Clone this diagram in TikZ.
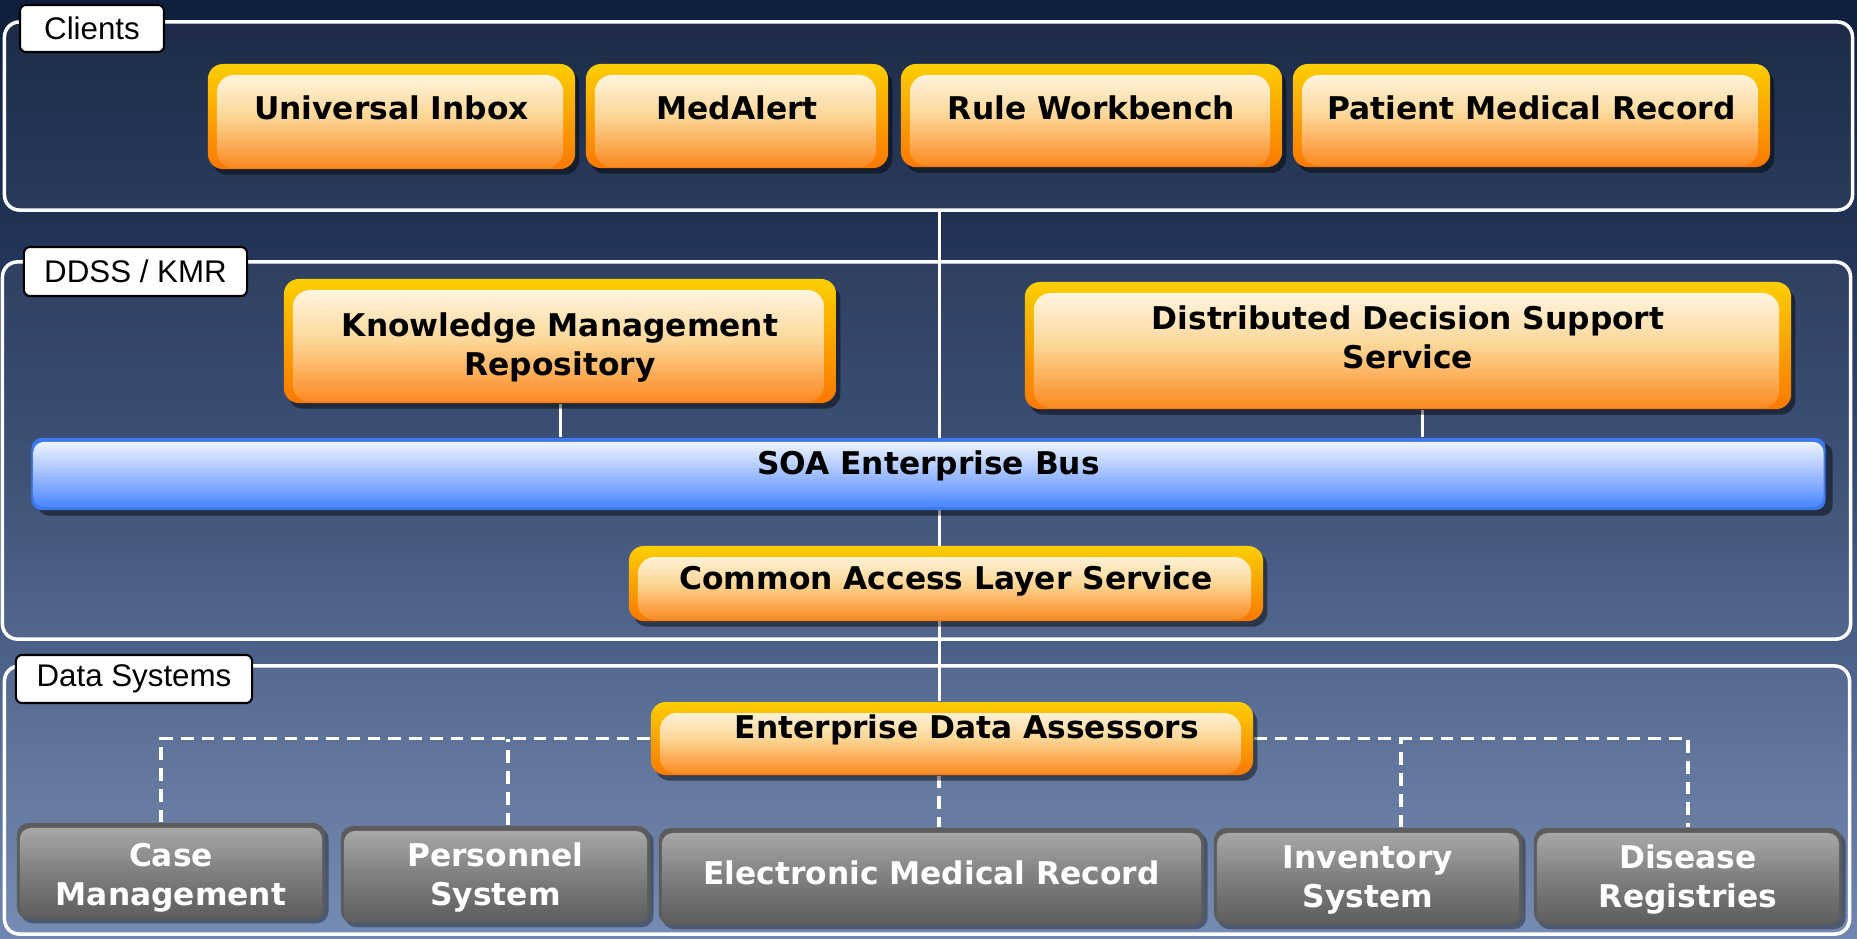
\documentclass[tikz,border=0pt]{standalone}
\usepackage{fontspec}
\newfontfamily\boxfont{DejaVu Sans}
\newfontfamily\tagfont{Liberation Sans}
\usetikzlibrary{shadows}
\definecolor{bgtop}{RGB}{15,30,60}
\definecolor{bgmid}{RGB}{52,72,112}
\definecolor{bgbot}{RGB}{112,134,176}
\definecolor{otop}{RGB}{252,206,0}
\definecolor{obot}{RGB}{251,120,0}
\definecolor{ctop}{RGB}{255,252,240}
\definecolor{cmid}{RGB}{252,214,150}
\definecolor{cbot}{RGB}{251,136,30}
\definecolor{gedge}{RGB}{92,92,92}
\definecolor{gtop}{RGB}{172,172,172}
\definecolor{gmid}{RGB}{128,128,128}
\definecolor{gbot}{RGB}{92,92,92}
\definecolor{bedge}{RGB}{60,120,240}
\definecolor{btop}{RGB}{248,250,255}
\definecolor{bmid}{RGB}{160,190,255}
\definecolor{bbot}{RGB}{66,128,255}
\pgfdeclarelayer{back}
\pgfdeclarelayer{wires}
\pgfsetlayers{back,wires,main}
\tikzset{
  panel/.style={draw=white, line width=1pt, rounded corners=0.15cm, fill=white, fill opacity=0.05, inner sep=0pt},
  tag/.style={draw=black, fill=white, line width=0.6pt, rounded corners=0.06cm, inner sep=0pt,
    font=\tagfont\fontsize{8.9pt}{11pt}\selectfont},
  lift/.style={text height=8pt, text depth=#1},
  lifttwo/.style={align=center, text height=#1, text depth=0pt},
  obox/.style={rounded corners=0.15cm, top color=otop, bottom color=obot, inner sep=0pt,
    font=\boxfont\fontsize{8.9pt}{11.1pt}\selectfont\bfseries,
    drop shadow={shadow xshift=1.2pt, shadow yshift=-1.6pt, opacity=0.45, fill=black},
    path picture={\shade[rounded corners=0.17cm, top color=ctop, bottom color=cbot, middle color=cmid]
      ([xshift=0.09cm,yshift=0.01cm]path picture bounding box.south west) rectangle
      ([xshift=-0.12cm,yshift=-0.11cm]path picture bounding box.north east);}},
  gbox/.style={rounded corners=0.12cm, fill=gedge, inner sep=0pt, text=white,
    font=\boxfont\fontsize{8.9pt}{11.1pt}\selectfont\bfseries,
    drop shadow={shadow xshift=1pt, shadow yshift=-1.2pt, opacity=0.35, fill=black},
    path picture={\shade[rounded corners=0.11cm, top color=gtop, bottom color=gbot, middle color=gmid]
      ([xshift=0.03cm]path picture bounding box.south west) rectangle
      ([xshift=-0.03cm,yshift=-0.05cm]path picture bounding box.north east);}},
  bus/.style={rounded corners=0.1cm, fill=bedge, inner sep=0pt,
    font=\boxfont\fontsize{8.9pt}{11.1pt}\selectfont\bfseries,
    drop shadow={shadow xshift=2pt, shadow yshift=-1.6pt, opacity=0.45, fill=black},
    path picture={\shade[rounded corners=0.1cm, top color=btop, bottom color=bbot, middle color=bmid]
      ([xshift=0.02cm,yshift=0.03cm]path picture bounding box.south west) rectangle
      ([xshift=-0.02cm,yshift=-0.04cm]path picture bounding box.north east);}},
  wire/.style={draw=white, line width=0.85pt},
  dashwire/.style={wire, line width=1pt, dash pattern=on 3.6pt off 2.3pt}
}
\begin{document}
\begin{tikzpicture}[x=0.01cm, y=-0.01cm]
    \useasboundingbox (0,0) rectangle (1857,938);
    \begin{pgfonlayer}{back}
        \shade[top color=bgtop, bottom color=bgbot, middle color=bgmid] (0,0) rectangle (1857,938);
        \node[panel, minimum width=18.47cm, minimum height=1.88cm] (P1) at (928.5,116) {};
        \node[panel, minimum width=18.47cm, minimum height=3.77cm] (P2) at (926.5,450.5) {};
        \node[panel, minimum width=18.44cm, minimum height=2.68cm] (P3) at (927,800) {};
    \end{pgfonlayer}
    \node[tag, minimum width=1.44cm, minimum height=0.47cm] (t1) at (92,28.5) {Clients};
    \node[tag, minimum width=2.23cm, minimum height=0.49cm] (t2) at (135.5,271.5) {DDSS / KMR};
    \node[tag, minimum width=2.36cm, minimum height=0.48cm] (t3) at (134,679) {Data Systems};
    \node[obox, lift=6.05pt, minimum width=3.67cm, minimum height=1.05cm] (a) at (391.5,116.5) {Universal Inbox};
    \node[obox, lift=6.05pt, minimum width=3.02cm, minimum height=1.04cm] (b) at (737,116) {MedAlert};
    \node[obox, lift=5.48pt, minimum width=3.81cm, minimum height=1.03cm] (c) at (1091.5,115.5) {Rule Workbench};
    \node[obox, lift=5.48pt, minimum width=4.77cm, minimum height=1.03cm] (d) at (1531.5,115.5) {Patient Medical Record};
    \node[obox, lifttwo=19.88pt, minimum width=5.52cm, minimum height=1.24cm] (e) at (560,341) {Knowledge Management\\Repository};
    \node[obox, lifttwo=13.34pt, minimum width=7.66cm, minimum height=1.27cm] (f) at (1408,345.5) {Distributed Decision Support\\Service};
    \node[bus, lift=7.76pt, minimum width=17.93cm, minimum height=0.72cm] (g) at (928.5,474) {SOA Enterprise Bus};
    \node[obox, lift=4.35pt, minimum width=6.34cm, minimum height=0.75cm] (h) at (946,583.5) {Common Access Layer Service};
    \node[obox, lift=7.76pt, minimum width=6.02cm, minimum height=0.73cm] (i) at (952,738.5) {\hspace*{8.5pt}Enterprise Data Assessors};
    \node[gbox, lifttwo=19.6pt, minimum width=3.08cm, minimum height=0.96cm] (j) at (171,871) {Case\\Management};
    \node[gbox, lifttwo=17.6pt, minimum width=3.09cm, minimum height=0.97cm] (k) at (495.5,874.5) {Personnel\\System};
    \node[gbox, lift=3.49pt, minimum width=5.45cm, minimum height=0.97cm] (l) at (931.5,876.5) {Electronic Medical Record};
    \node[gbox, lifttwo=17.88pt, minimum width=3.08cm, minimum height=0.97cm] (m) at (1368,876.5) {Inventory\\System};
    \node[gbox, lifttwo=17.88pt, minimum width=3.08cm, minimum height=0.97cm] (n) at (1688,876.5) {Disease\\Registries};
    \begin{pgfonlayer}{wires}
        \coordinate (o) at (939,210);
        \draw[wire]     (o) -- (o |- i.north);
        \draw[wire]     (e.south) -- (e.south |- g.north);
        \draw[wire]     ([xshift=0.14cm]f.south) -- ([xshift=0.14cm]f.south |- g.north);
        \draw[dashwire] (o |- i.south) -- (o |- l.north);
        \draw[dashwire] (i.west) -| ([xshift=-0.1cm]j.north);
        \draw[dashwire] ([xshift=0.125cm]k.north) -- ([xshift=0.125cm]k.north |- i.west);
        \draw[dashwire] (i.east) -| (n.north);
        \draw[dashwire] ([xshift=0.33cm]m.north) -- ([xshift=0.33cm]m.north |- i.east);
    \end{pgfonlayer}
\end{tikzpicture}
\end{document}
